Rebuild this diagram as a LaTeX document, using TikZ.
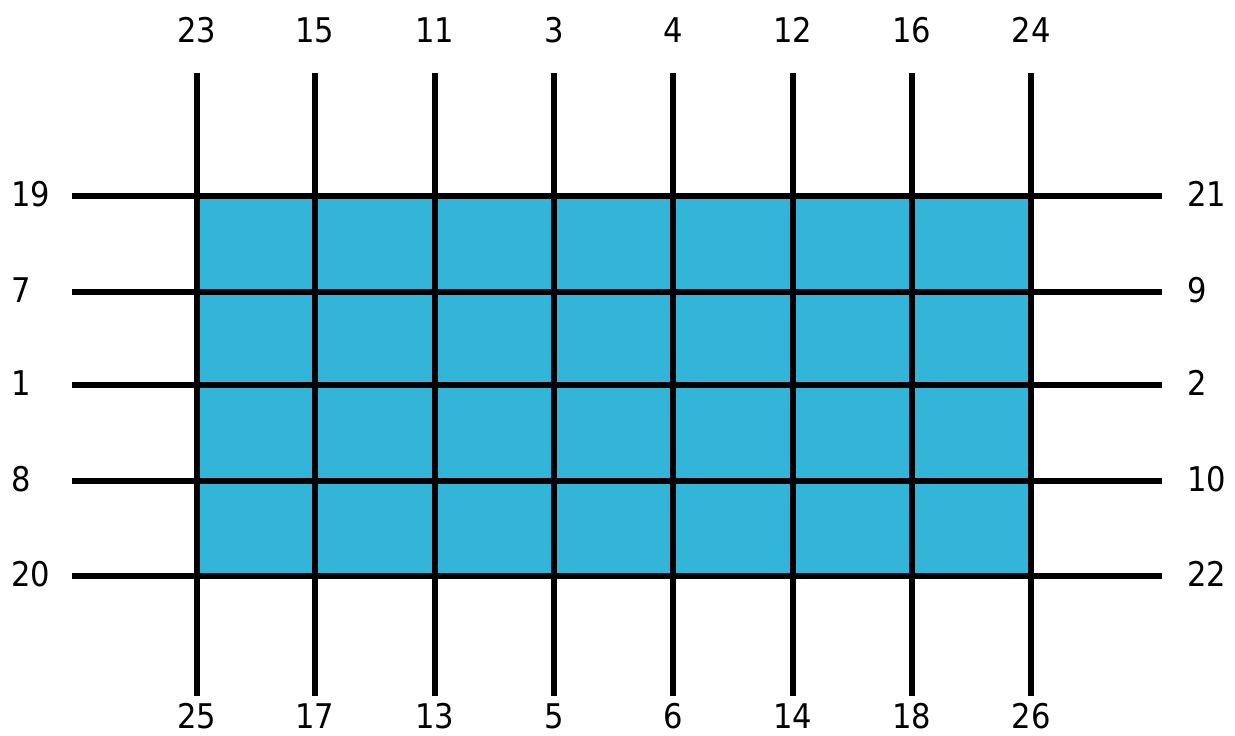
\documentclass[tikz,border=0pt]{standalone}
\usepackage{fontspec}
\setmainfont{DejaVu Sans Condensed}
\definecolor{cellblue}{HTML}{33B5DA}
\begin{document}
\begin{tikzpicture}[x=1pt,y=1pt,
  gridline/.style={line width=6pt,black},
  lbl/.style={font=\fontsize{34}{38}\selectfont,inner sep=0pt}]
\useasboundingbox (0,0) rectangle (1235,736);
\fill[cellblue] (197,160) rectangle (1031,540);
% vertical lines
\foreach \x/\t/\b [count=\i] in {197/23/25,315/15/17,435/11/13,554/3/5,673/4/6,793/12/14,912/16/18,1031/24/26}{
  \coordinate (vt\i) at (\x,663);
  \coordinate (vb\i) at (\x,40);
  \draw[gridline] (vt\i) -- (vb\i);
  \node[lbl,anchor=base] (top\i) at (\x,693) {\t};
  \node[lbl,anchor=base] (bot\i) at (\x,7) {\b};
}
% horizontal lines
\foreach \y/\l/\r [count=\i] in {540/19/21,444/7/9,351/1/2,255/8/10,160/20/22}{
  \coordinate (hl\i) at (72,\y);
  \coordinate (hr\i) at (1162,\y);
  \draw[gridline] (hl\i) -- (hr\i);
  \node[lbl,anchor=base west] (left\i) at (11,\y-11) {\l};
  \node[lbl,anchor=base west] (right\i) at (1187,\y-11) {\r};
}
\end{tikzpicture}
\end{document}
